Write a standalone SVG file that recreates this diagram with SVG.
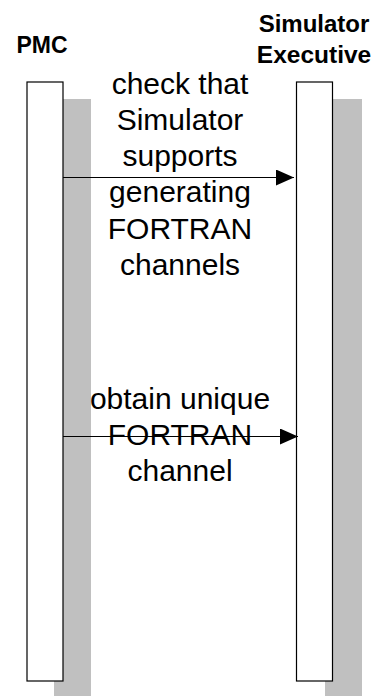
<svg xmlns="http://www.w3.org/2000/svg" width="380" height="696" viewBox="0 0 380 696">
<style>
.shadow{fill:#c0c0c0}
.bar{fill:#fff;stroke:#000;stroke-width:1.2}
.hdr{font-family:"Liberation Sans",Arial,sans-serif;font-weight:bold;font-size:23px;text-anchor:middle;fill:#000}
.msg{font-family:"Liberation Sans",Arial,sans-serif;font-size:30px;text-anchor:middle;fill:#000}
.conn{stroke:#000;stroke-width:1.2;fill:none}
</style>
<defs>
<marker id="ah" markerWidth="18" markerHeight="16" refX="18" refY="8" orient="auto" markerUnits="userSpaceOnUse">
<path d="M0,0 L18,8 L0,16 Z" fill="#000"/>
</marker>
</defs>
<g id="pmc">
<rect class="shadow" x="54" y="99" width="37" height="600"/>
<rect class="bar" x="27" y="82" width="36" height="599"/>
<text class="hdr" x="42" y="53">PMC</text>
</g>
<g id="simexec">
<rect class="shadow" x="325" y="99" width="37" height="600"/>
<rect class="bar" x="296.5" y="82" width="36" height="599"/>
<text class="hdr" x="314" y="32" style="font-size:24px">Simulator</text>
<text class="hdr" x="314" y="63" style="font-size:24.5px">Executive</text>
</g>
<g id="connectors">
<line class="conn" x1="63" y1="177.5" x2="294" y2="177.5" marker-end="url(#ah)"/>
<line class="conn" x1="63" y1="436.5" x2="298" y2="436.5" marker-end="url(#ah)"/>
</g>
<g id="labels">
<text class="msg" x="180" y="94">check that</text>
<text class="msg" x="180" y="130">Simulator</text>
<text class="msg" x="180" y="166">supports</text>
<text class="msg" x="180" y="202">generating</text>
<text class="msg" x="180" y="239">FORTRAN</text>
<text class="msg" x="180" y="275">channels</text>
<text class="msg" x="180" y="409">obtain unique</text>
<text class="msg" x="180" y="445">FORTRAN</text>
<text class="msg" x="180" y="481">channel</text>
</g>
</svg>
